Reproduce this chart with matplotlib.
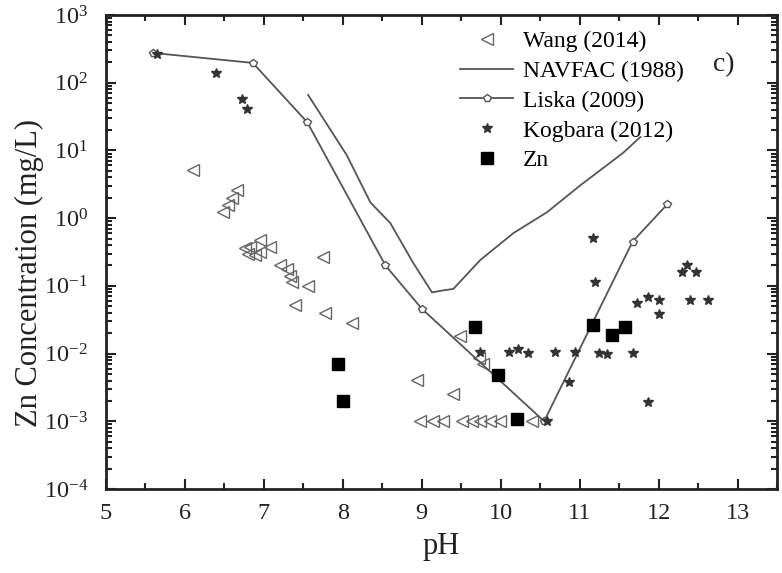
import numpy as np
import matplotlib
matplotlib.use("Agg")
import matplotlib.pyplot as plt
from matplotlib.ticker import LogLocator, MultipleLocator, NullFormatter

plt.rcParams['font.family'] = ['Liberation Serif', 'DejaVu Serif']
plt.rcParams['mathtext.fontset'] = 'custom'
plt.rcParams['mathtext.rm'] = 'Liberation Serif'

# ---------------- data ----------------
wang_ph = [6.10, 6.66, 6.60, 6.55, 6.48, 6.76, 6.82, 6.80, 6.89, 6.95, 6.95, 7.08,
           7.20, 7.29, 7.33, 7.36, 7.56, 7.75, 7.40, 7.78, 8.12, 8.94, 9.39, 9.49,
           9.72, 9.78, 8.98, 9.14, 9.27, 9.51, 9.64, 9.74, 9.87, 9.99, 10.40]
wang_c = [5.2, 2.6, 2.0, 1.55, 1.23, 0.36, 0.37, 0.30, 0.29, 0.47, 0.32, 0.37,
          0.20, 0.18, 0.14, 0.115, 0.10, 0.27, 0.052, 0.040, 0.028, 0.0041, 0.0025, 0.018,
          0.0085, 0.0070, 0.001, 0.001, 0.001, 0.001, 0.001, 0.001, 0.001, 0.001, 0.001]

nav_ph = [7.56, 8.05, 8.35, 8.60, 8.89, 9.13, 9.25, 9.40, 9.74, 10.16, 10.59,
          11.00, 11.43, 11.55, 11.77]
nav_c = [66, 8.5, 1.7, 0.85, 0.22, 0.08, 0.085, 0.09, 0.24, 0.6, 1.23,
         3.0, 7.2, 9.2, 15.8]

liska_ph = [5.60, 6.86, 7.55, 8.54, 9.00, 10.55, 11.67, 12.11]
liska_c = [275, 196, 26, 0.20, 0.046, 0.001, 0.45, 1.6]

kog_ph = [5.65, 6.39, 6.72, 6.79, 9.74, 10.10, 10.22, 10.35, 10.69, 10.86, 10.94,
          10.59, 11.17, 11.20, 11.24, 11.35, 11.68, 11.73, 11.87, 12.01, 12.00,
          11.87, 12.30, 12.36, 12.47, 12.40, 12.62]
kog_c = [270, 138, 57, 41, 0.0104, 0.0105, 0.0117, 0.0102, 0.0105, 0.0038, 0.0105,
         0.001, 0.51, 0.115, 0.0102, 0.0097, 0.0102, 0.056, 0.068, 0.062, 0.038,
         0.0019, 0.16, 0.20, 0.16, 0.062, 0.062]

zn_ph = [7.94, 8.00, 9.68, 9.96, 10.21, 11.17, 11.41, 11.58]
zn_c = [0.0069, 0.0020, 0.0246, 0.0048, 0.00107, 0.026, 0.019, 0.025]

# ---------------- plot ----------------
fig = plt.figure(figsize=(7.82, 5.73), dpi=100)
ax = fig.add_axes([106 / 782, 1 - 489 / 573, 671 / 782, 474 / 573])

gray = "#555555"
ax.plot(wang_ph, wang_c, ls="none", marker="<", ms=8, mfc="none", mec="#666666",
        mew=1.0, label="Wang (2014)")
ax.plot(nav_ph, nav_c, "-", color=gray, lw=1.3, label="NAVFAC (1988)")
ax.plot(liska_ph, liska_c, "-", color=gray, lw=1.3, marker="p", ms=6,
        mfc="white", mec=gray, mew=1.0, label="Liska (2009)")
ax.plot(kog_ph, kog_c, ls="none", marker="*", ms=7, color="#333333",
        label="Kogbara (2012)")
ax.plot(zn_ph, zn_c, ls="none", marker="s", ms=8, color="black", label="Zn")

ax.set_yscale("log")
ax.set_xlim(5, 13.5)
ax.set_ylim(1e-4, 1e3)
ax.xaxis.set_major_locator(MultipleLocator(1))
ax.xaxis.set_minor_locator(MultipleLocator(0.5))
ax.yaxis.set_major_locator(LogLocator(base=10, numticks=20))
ax.yaxis.set_minor_locator(LogLocator(base=10, subs=np.arange(2, 10), numticks=20))
ax.yaxis.set_minor_formatter(NullFormatter())

ax.tick_params(which="both", direction="in", top=True, right=True, width=1.5,
               labelsize=17.5, colors="#222222")
ax.tick_params(which="major", length=7)
ax.tick_params(which="minor", length=4)
ax.tick_params(axis="y", which="major", pad=13)
ax.tick_params(axis="x", which="major", pad=10)
for s in ax.spines.values():
    s.set_linewidth(2)
    s.set_color("#222222")

ax.set_xlabel("pH", fontsize=22, color="#222222", labelpad=6)
ax.set_ylabel("Zn Concentration (mg/L)", fontsize=22, color="#222222")
ax.yaxis.set_label_coords(-0.092, 0.456)

ax.legend(loc="upper left", bbox_to_anchor=(0.51, 0.992), frameon=False,
          fontsize=17, handlelength=2.25, labelspacing=0.35, borderpad=0,
          handletextpad=0.4)
ax.text(0.905, 0.895, "c)", transform=ax.transAxes, fontsize=20,
        color="#222222", ha="left", va="center")

fig.savefig("out.png", dpi=100)
